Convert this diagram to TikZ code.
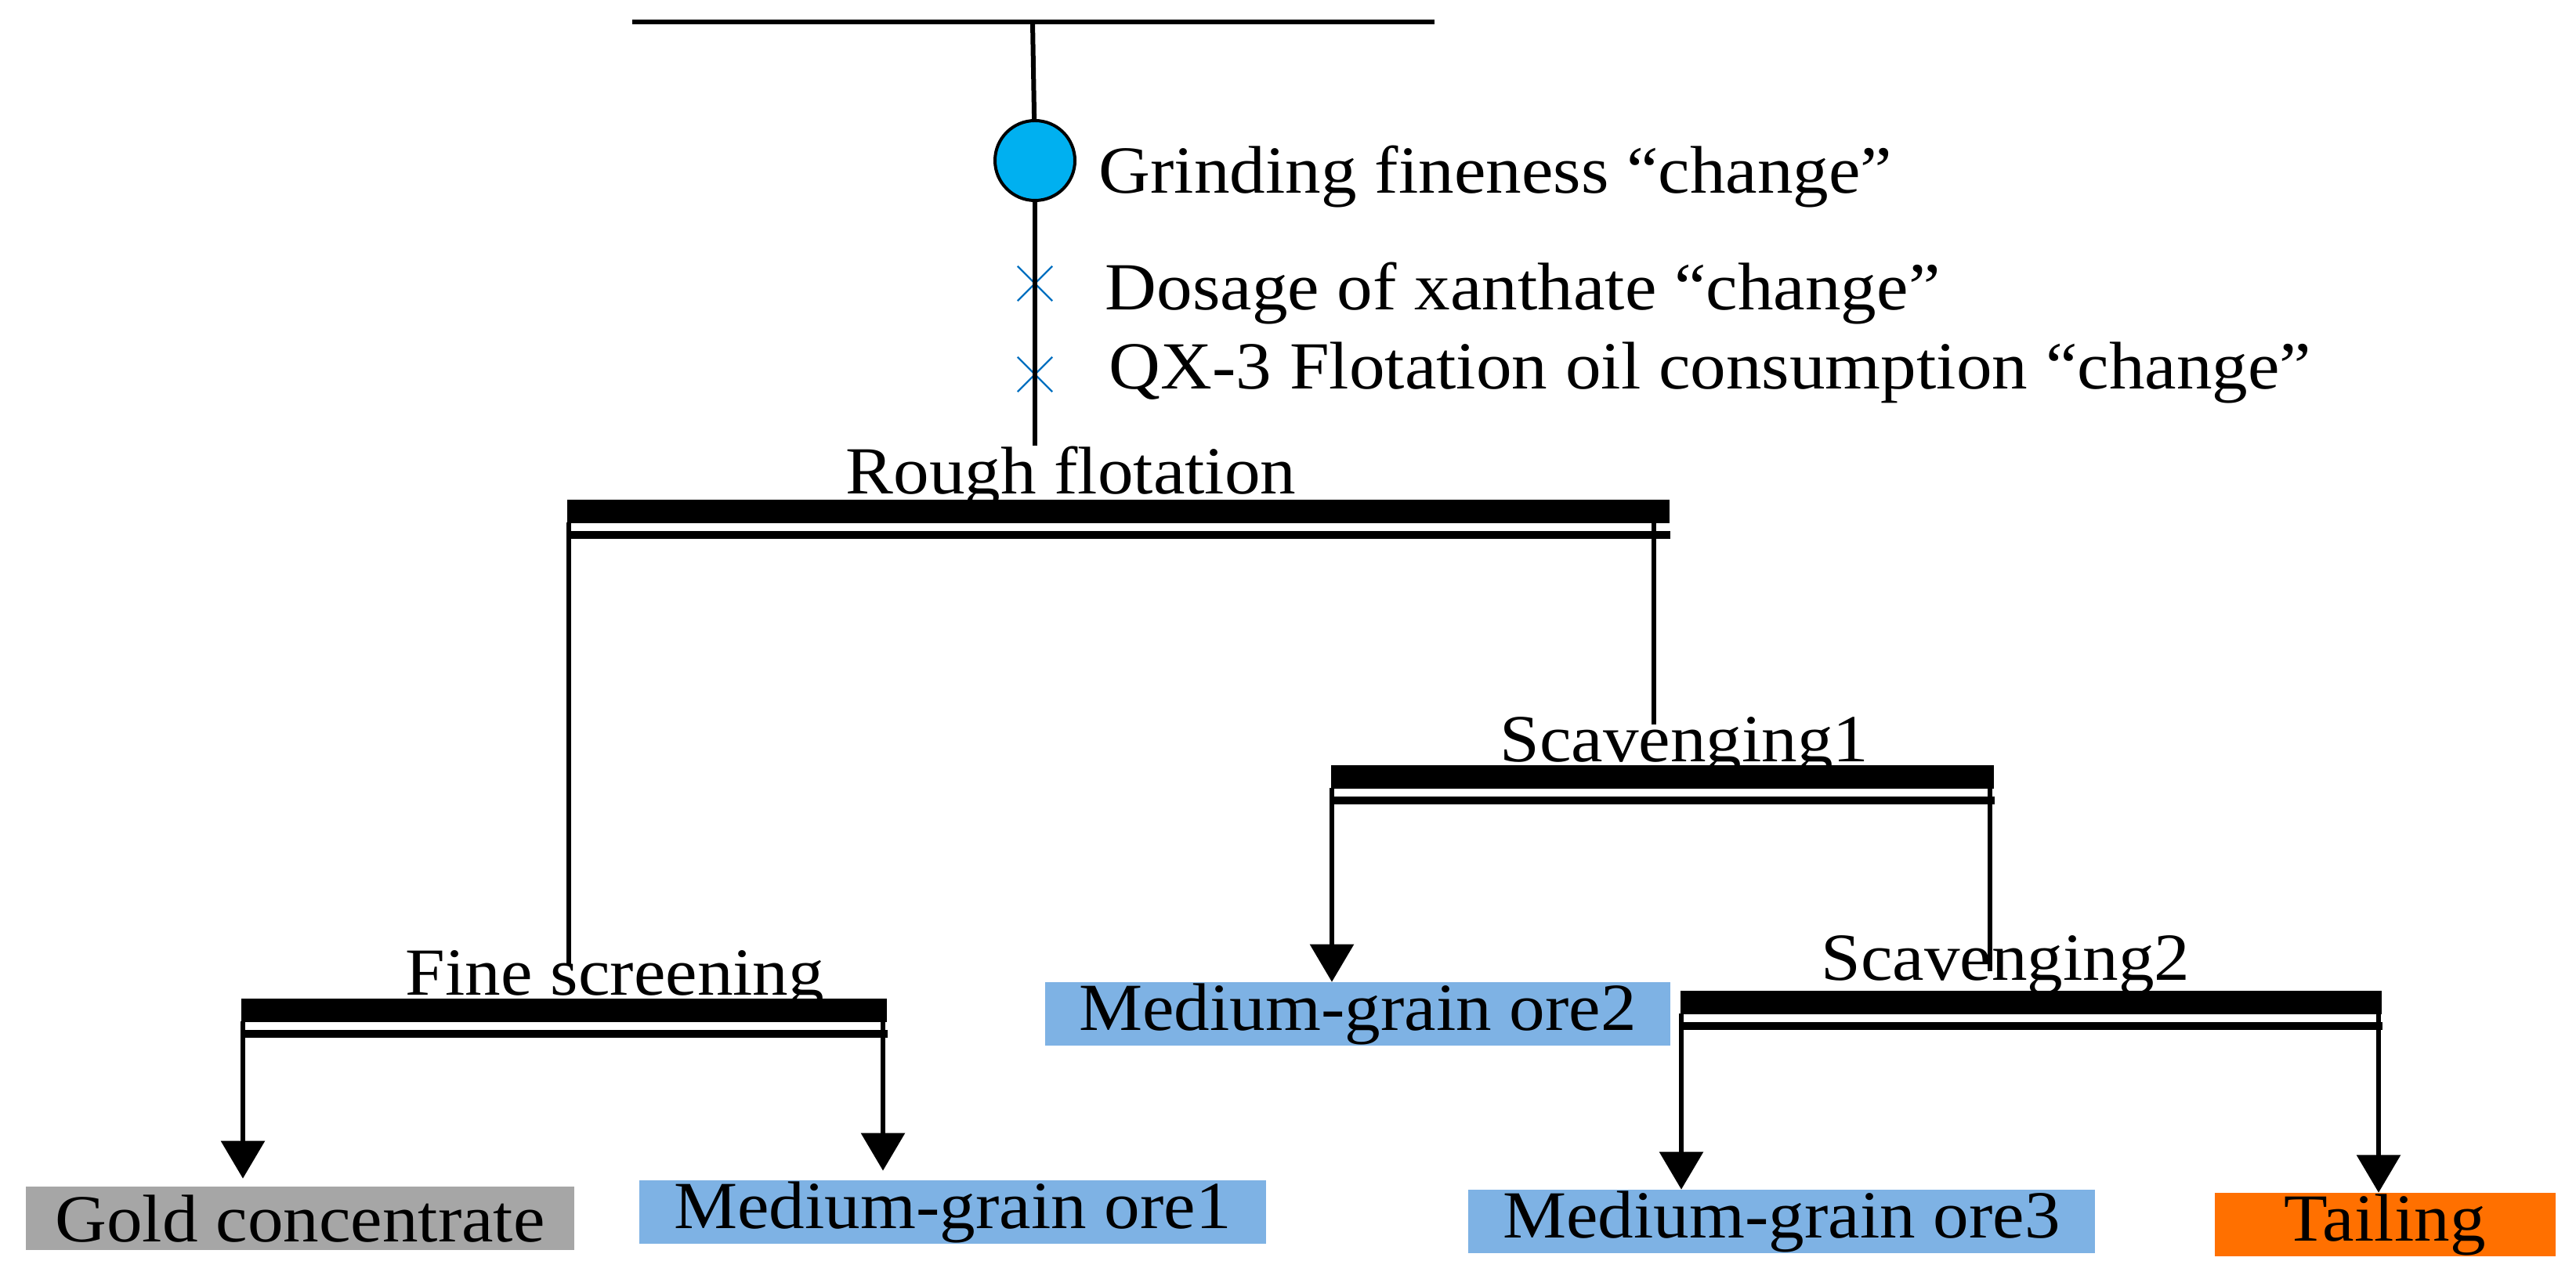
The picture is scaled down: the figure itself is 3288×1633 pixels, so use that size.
\documentclass[tikz,border=0pt]{standalone}
\usepackage{fontspec}
\setmainfont{Liberation Serif}[FakeStretch=1.06]
\usepackage{tikz}
\usetikzlibrary{positioning,arrows.meta,shapes.misc}
\definecolor{cGrind}{HTML}{00B0F0}
\definecolor{cMark}{HTML}{0070C0}
\definecolor{cGold}{HTML}{A6A6A6}
\definecolor{cOre}{HTML}{7EB2E4}
\definecolor{cTail}{HTML}{FF7000}

\begin{document}
\begin{tikzpicture}[
  x=0.25pt, y=-0.25pt,
  font=\fontsize{21.5}{25}\selectfont,
  >={Triangle[length=12pt,width=13.75pt]},
  pipe/.style={draw=black, line width=1.5pt},
  flow/.style={pipe, ->},
  bar/.style={fill=black, inner sep=0pt, minimum height=7.5pt, anchor=north west},
  band/.style={draw=black, line width=2.5pt},
  lbl/.style={inner sep=0pt, anchor=base},
  note/.style={inner sep=0pt, anchor=base west},
  box/.style={inner sep=0pt, minimum height=20.25pt, align=center},
  gold/.style={box, fill=cGold, minimum width=175pt},
  ore/.style={box, fill=cOre, minimum width=200pt},
  tail/.style={box, fill=cTail, minimum width=108.75pt},
  grind/.style={circle, draw=black, fill=cGrind, line width=1pt, minimum size=25.5pt, inner sep=0pt},
  xmark/.style={cross out, draw=cMark, line width=0.6pt, minimum size=10.5pt, inner sep=0pt},
]
\useasboundingbox (0,0) rectangle (3288,1633);

% feed and reagents
\coordinate (inL) at (807,28);
\coordinate (inR) at (1831,28);
\coordinate (inM) at (1318,28);
\node[grind] (grind) at (1321,205) {};
\node[xmark] (xan) at (1321,362) {};
\node[xmark] (oil) at (1321,478) {};
\node[note] (grindlbl) at (1402,247) {Grinding fineness “change”};
\node[note] (xanlbl) at (1410,396) {Dosage of xanthate “change”};
\node[note] (oillbl) at (1415,497) {QX-3 Flotation oil consumption “change”};
\coordinate (roughIn) at (1321,569);

% stage captions
\node[lbl] (roughlbl) at (1367,631) {Rough flotation};
\node[lbl] (scav1lbl) at (2150,973) {Scavenging1};
\node[lbl] (finelbl) at (785,1271) {Fine screening};
\node[lbl] (scav2lbl) at (2560,1252) {Scavenging2};

% products
\node[gold] (gold) at (383,1556) {Gold concentrate};
\node[ore] (ore1) at (1216,1548) {Medium-grain ore1};
\node[ore, minimum width=199.5pt] (ore2) at (1733,1295) {Medium-grain ore2};
\node[ore] (ore3) at (2274,1560) {Medium-grain ore3};
\node[tail] (tail) at (3044,1564) {Tailing};

% connector ends
\coordinate (roughL) at (726,667);
\coordinate (roughR) at (2111,667);
\coordinate (fineIn) at (726,1233);
\coordinate (scav1In) at (2111,925);
\coordinate (scav1L) at (1700,1006);
\coordinate (scav1R) at (2540,1006);
\coordinate (scav2In) at (2540,1240);
\coordinate (fineL) at (310,1304);
\coordinate (fineR) at (1127,1304);
\coordinate (scav2L) at (2146,1294);
\coordinate (scav2R) at (3036,1294);

\draw[pipe] (inL) -- (inR);
\draw[pipe] (inM) -- (grind);
\draw[pipe] (grind) -- (roughIn);
\draw[pipe] (roughL) -- (fineIn);
\draw[pipe] (roughR) -- (scav1In);
\draw[pipe] (scav1R) -- (scav2In);
\draw[flow] (scav1L) -- (scav1L |- ore2.north);
\draw[flow, shorten >=2.5pt] (fineL) -- (fineL |- gold.north);
\draw[flow, shorten >=3pt] (fineR) -- (fineR |- ore1.north);
\draw[flow] (scav2L) -- (scav2L |- ore3.north);
\draw[flow] (scav2R) -- (scav2R |- tail.north);

% flotation bars
\node[bar, minimum width=351.75pt] (rough) at (723,637) {};
\node[bar, minimum width=211.5pt] (scav1) at (1698,976) {};
\node[bar, minimum width=206pt] (fine) at (307,1274) {};
\node[bar, minimum width=223.75pt] (scav2) at (2144,1264) {};
\draw[band] ([yshift=-3.5pt]rough.south west) -- ([yshift=-3.5pt]rough.south east);
\draw[band] ([yshift=-3.5pt]scav1.south west) -- ([yshift=-3.5pt]scav1.south east);
\draw[band] ([yshift=-3.5pt]fine.south west) -- ([yshift=-3.5pt]fine.south east);
\draw[band] ([yshift=-3.5pt]scav2.south west) -- ([yshift=-3.5pt]scav2.south east);
\end{tikzpicture}
\end{document}
